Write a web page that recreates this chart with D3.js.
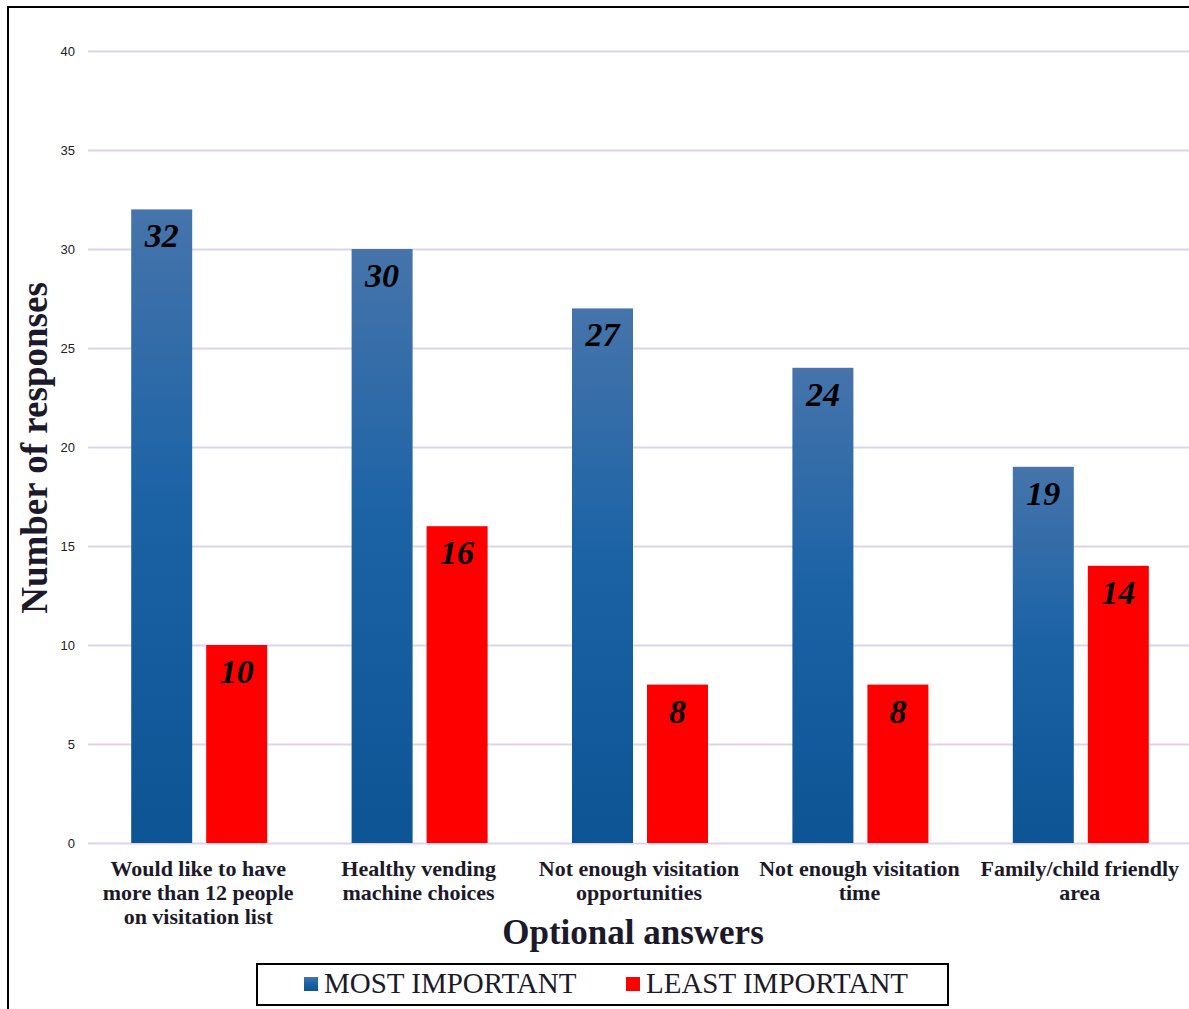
<!DOCTYPE html>
<html>
<head>
<meta charset="utf-8">
<script src="https://cdn.jsdelivr.net/npm/d3@7"></script>
<style>
  body { margin: 0; background: #fff; }
  svg { display: block; }
</style>
</head>
<body>
<div id="chart-area"></div>
<script>
// data
const categories = [
  ['Would like to have', 'more than 12 people', 'on visitation list'],
  ['Healthy vending', 'machine choices'],
  ['Not enough visitation', 'opportunities'],
  ['Not enough visitation', 'time'],
  ['Family/child friendly', 'area'],
];
const mostImportant = [32, 30, 27, 24, 19];
const leastImportant = [10, 16, 8, 8, 14];
const seriesNames = ['MOST IMPORTANT', 'LEAST IMPORTANT'];
const yTicks = [0, 5, 10, 15, 20, 25, 30, 35, 40];

const W = 1189, H = 1009;
const margin = { left: 88, right: -1, top: 51, bottom: 166 };
const width = W - margin.left - margin.right;
const height = H - margin.top - margin.bottom;
const serif = '"Liberation Serif", "Times New Roman", serif';
const textCol = '#1c1a2a';

const svg = d3.select('#chart-area').append('svg').attr('width', W).attr('height', H);

const defs = svg.append('defs');
const grad = defs.append('linearGradient').attr('id', 'blueGrad')
  .attr('x1', 0).attr('y1', 0).attr('x2', 0).attr('y2', 1);
grad.append('stop').attr('offset', '0%').attr('stop-color', '#4674ab');
grad.append('stop').attr('offset', '45%').attr('stop-color', '#1c63a6');
grad.append('stop').attr('offset', '100%').attr('stop-color', '#0c5494');

// outer frame
svg.append('rect').attr('x', 8).attr('y', 7).attr('width', W + 20).attr('height', H + 20)
  .attr('fill', 'none').attr('stroke', '#000').attr('stroke-width', 2);

const g = svg.append('g').attr('transform', `translate(${margin.left}, ${margin.top})`);

const x = d3.scaleBand().domain(d3.range(categories.length)).range([0, width]);
const y = d3.scaleLinear().domain([0, 40]).range([height, 0]);

// gridlines
g.append('g')
  .call(d3.axisLeft(y).tickValues(yTicks).tickSize(-width).tickFormat(''))
  .call((s) => s.select('.domain').remove())
  .selectAll('line').attr('stroke', '#ddd4e9').attr('stroke-width', 2);

// y tick labels
g.append('g')
  .call(d3.axisLeft(y).tickValues(yTicks).tickSize(0).tickPadding(13))
  .call((s) => s.select('.domain').remove())
  .selectAll('text')
  .attr('font-family', '"Liberation Sans", Arial, sans-serif')
  .attr('font-size', 13).attr('fill', '#222');

const barW = 61, gap = 14;
const groups = g.selectAll('.grp').data(categories).enter().append('g')
  .attr('transform', (d, i) => `translate(${x(i) + x.bandwidth() / 2}, 0)`);

// blue bars
groups.append('rect')
  .attr('x', -barW - gap / 2 + 1)
  .attr('y', (d, i) => y(mostImportant[i]))
  .attr('width', barW)
  .attr('height', (d, i) => height - y(mostImportant[i]))
  .attr('fill', 'url(#blueGrad)');

// red bars
groups.append('rect')
  .attr('x', gap / 2 + 1)
  .attr('y', (d, i) => y(leastImportant[i]))
  .attr('width', barW)
  .attr('height', (d, i) => height - y(leastImportant[i]))
  .attr('fill', '#ff0000');

// value labels
groups.append('text')
  .attr('x', -barW / 2 - gap / 2 + 1)
  .attr('y', (d, i) => y(mostImportant[i]) + 38)
  .attr('text-anchor', 'middle')
  .attr('font-family', serif).attr('font-size', 34)
  .attr('font-weight', 'bold').attr('font-style', 'italic')
  .attr('fill', '#000')
  .text((d, i) => mostImportant[i]);

groups.append('text')
  .attr('x', barW / 2 + gap / 2 + 1)
  .attr('y', (d, i) => y(leastImportant[i]) + 38)
  .attr('text-anchor', 'middle')
  .attr('font-family', serif).attr('font-size', 34)
  .attr('font-weight', 'bold').attr('font-style', 'italic')
  .attr('fill', '#000')
  .text((d, i) => leastImportant[i]);

// category labels
groups.append('text')
  .attr('y', height + 33)
  .attr('text-anchor', 'middle')
  .attr('font-family', serif).attr('font-size', 22).attr('font-weight', 'bold')
  .attr('fill', textCol)
  .each(function (d) {
    const t = d3.select(this);
    d.forEach((line, k) => {
      t.append('tspan').attr('x', 0).attr('dy', k === 0 ? 0 : 24).text(line);
    });
  });

// axis titles
svg.append('text')
  .attr('transform', 'translate(47, 448) rotate(-90)')
  .attr('text-anchor', 'middle')
  .attr('font-family', serif).attr('font-size', 37).attr('font-weight', 'bold')
  .attr('fill', textCol)
  .text('Number of responses');

svg.append('text')
  .attr('x', 633).attr('y', 944)
  .attr('text-anchor', 'middle')
  .attr('font-family', serif).attr('font-size', 35).attr('font-weight', 'bold')
  .attr('fill', textCol)
  .text('Optional answers');

// legend
const legend = svg.append('g');
legend.append('rect').attr('x', 257).attr('y', 964).attr('width', 691).attr('height', 41)
  .attr('fill', '#fff').attr('stroke', '#000').attr('stroke-width', 2);

const legendX = [304, 626];
const legendFill = ['url(#blueGrad)', '#ff0000'];
const items = legend.selectAll('.item').data(seriesNames).enter().append('g')
  .attr('transform', (d, i) => `translate(${legendX[i]}, 977)`);
items.append('rect').attr('width', 14).attr('height', 14)
  .attr('fill', (d, i) => legendFill[i]);
items.append('text').attr('x', 20).attr('y', 16)
  .attr('font-family', serif).attr('font-size', 29)
  .attr('fill', textCol)
  .text((d) => d);
</script>
</body>
</html>
